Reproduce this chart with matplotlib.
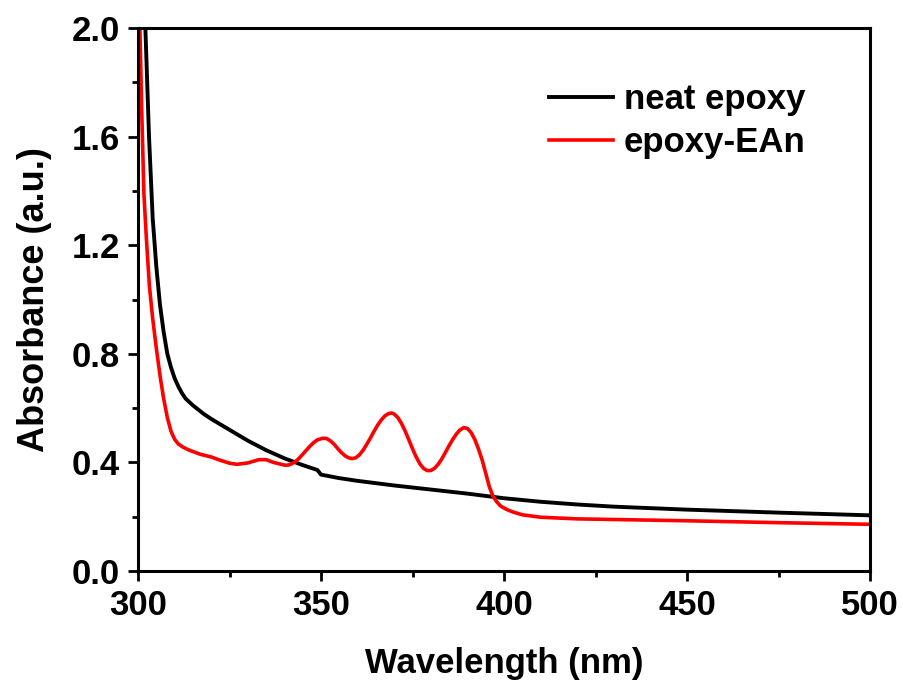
import matplotlib
matplotlib.use('Agg')
import matplotlib.pyplot as plt
from matplotlib.ticker import MultipleLocator

plt.rcParams['font.family'] = ['Liberation Sans', 'DejaVu Sans']
plt.rcParams['font.weight'] = 'bold'

# neat epoxy (black)
wl_neat = [300, 301, 302, 303, 304, 305, 306, 307, 308, 309, 310, 311, 312, 313, 315, 318, 320,
           325, 330, 335, 340, 345, 349, 350, 355, 360, 370, 380, 390, 400,
           410, 420, 430, 450, 475, 500]
abs_neat = [2.6, 2.3, 2.0, 1.6, 1.3, 1.12, 0.98, 0.88, 0.80, 0.75, 0.71, 0.68, 0.655, 0.635, 0.61, 0.578, 0.56,
            0.52, 0.48, 0.445, 0.415, 0.39, 0.372, 0.355, 0.342, 0.332, 0.315, 0.30, 0.285, 0.268,
            0.255, 0.245, 0.237, 0.226, 0.215, 0.205]

# epoxy-EAn (red)
wl_ean = [300, 300.5, 301, 301.6, 302.3, 303.1, 304, 305, 306, 307, 308, 309, 310, 311, 312.3,
          314, 317, 320, 322, 325, 327, 330, 333, 335, 337, 340, 341, 342, 343, 344, 345, 346,
          347, 348, 349, 350.5, 351.5, 352.5, 353.5, 354.5, 355.5, 356.5, 357.5, 358.5, 359.5,
          360.5, 361.5, 362.5, 363.5, 364.5, 365.5, 366.5, 367.5, 368.5, 369.3, 370, 371, 372,
          373, 374, 375, 376, 377, 378, 379, 380, 381, 382, 383, 384, 385, 386, 387, 388, 389,
          390, 391, 392, 393, 394, 395, 396, 397, 398, 399, 400, 401, 402.5, 405, 410, 420,
          450, 475, 500]
abs_ean = [2.3, 2.0, 1.7, 1.39, 1.22, 1.05, 0.93, 0.82, 0.72, 0.635, 0.565, 0.515, 0.485, 0.468, 0.456,
           0.445, 0.43, 0.42, 0.41, 0.397, 0.393, 0.398, 0.41, 0.41, 0.40, 0.39, 0.39, 0.395, 0.403, 0.415, 0.43, 0.445,
           0.46, 0.473, 0.483, 0.489, 0.488, 0.48, 0.468, 0.452, 0.437, 0.425, 0.417, 0.414, 0.417,
           0.428, 0.445, 0.467, 0.49, 0.515, 0.538, 0.557, 0.572, 0.58, 0.582, 0.578, 0.565, 0.543,
           0.515, 0.483, 0.45, 0.42, 0.395, 0.378, 0.37, 0.37, 0.378, 0.393, 0.413, 0.437, 0.462, 0.485, 0.505, 0.52, 0.528,
           0.525, 0.51, 0.485, 0.45, 0.41, 0.36, 0.31, 0.275, 0.255, 0.24, 0.232, 0.225, 0.217, 0.207, 0.198, 0.192,
           0.185, 0.178, 0.172]

fig = plt.figure(figsize=(9.04, 6.8), dpi=100)
ax = fig.add_axes([0.1527, 0.1603, 0.8097, 0.7985])

ax.plot(wl_neat, abs_neat, color='black', lw=2.8, label='neat epoxy')
ax.plot(wl_ean, abs_ean, color='#ff0000', lw=2.6, label='epoxy-EAn')

ax.set_xlim(300, 500)
ax.set_ylim(0, 2.0)
ax.xaxis.set_major_locator(MultipleLocator(50))
ax.xaxis.set_minor_locator(MultipleLocator(25))
ax.yaxis.set_major_locator(MultipleLocator(0.4))
ax.yaxis.set_minor_locator(MultipleLocator(0.2))
ax.yaxis.set_major_formatter(plt.FormatStrFormatter('%.1f'))

for s in ax.spines.values():
    s.set_linewidth(2.2)
ax.tick_params(which='major', direction='out', length=7, width=2, labelsize=25, pad=6)
ax.tick_params(which='minor', direction='out', length=4.5, width=2)
ax.tick_params(top=False, right=False)

ax.set_xlabel('Wavelength (nm)', fontsize=25, fontweight='bold', labelpad=18)
ax.set_ylabel('Absorbance (a.u.)', fontsize=26, fontweight='bold', labelpad=14)

ax.legend(loc='upper left', bbox_to_anchor=(0.562, 0.899), frameon=False, fontsize=25,
          handlelength=1.82, handletextpad=0.32, labelspacing=0.3, borderpad=0, borderaxespad=0)

fig.savefig('out.png', dpi=100)
